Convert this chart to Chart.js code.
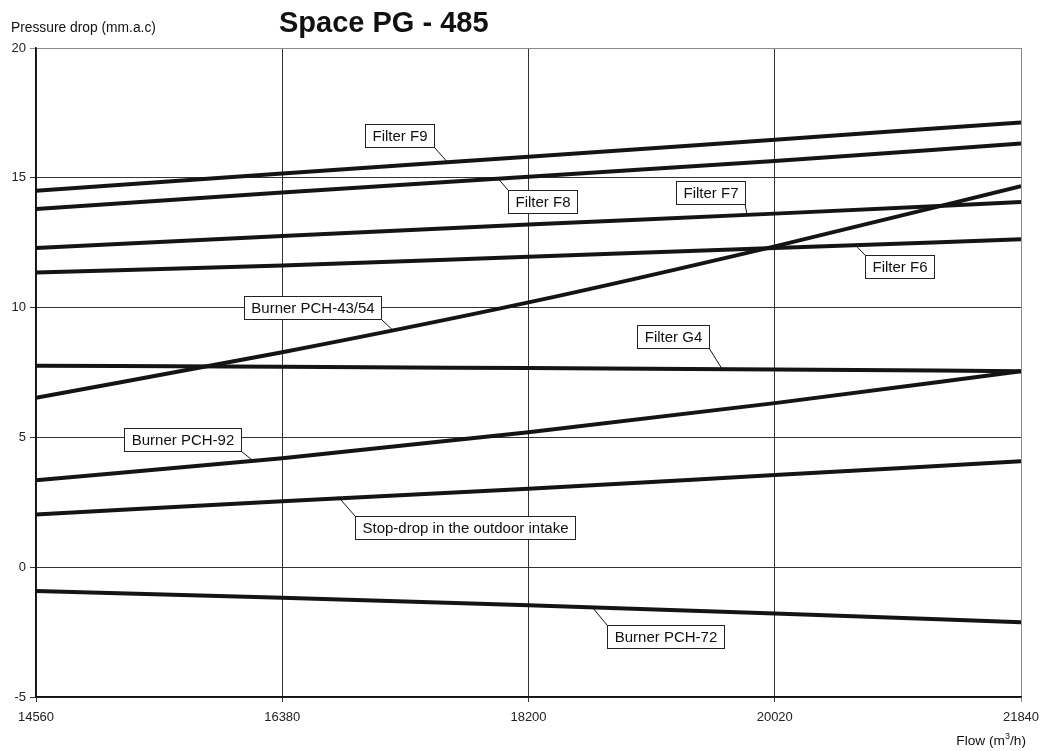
<!DOCTYPE html>
<html>
<head>
<meta charset="utf-8">
<script src="https://cdn.jsdelivr.net/npm/chart.js@4.4.0/dist/chart.umd.min.js"></script>
<style>
html,body{margin:0;padding:0;background:#fff;}
#wrap{width:1043px;height:751px;position:relative;}
</style>
</head>
<body>
<div id="wrap"><canvas id="c" width="1043" height="751"></canvas></div>
<script>
// ---- data ----
const flows = [14560, 16380, 18200, 20020, 21840];
const filterF9 = [14.5, 15.17, 15.81, 16.47, 17.13];
const filterF8 = [13.8, 14.43, 15.04, 15.65, 16.32];
const filterF7 = [12.3, 12.76, 13.2, 13.62, 14.07];
const filterF6 = [11.35, 11.62, 11.96, 12.3, 12.63];
const burner4354 = [6.53, 8.28, 10.2, 12.36, 14.68];
const filterG4 = [7.76, 7.72, 7.67, 7.62, 7.55];
const burner92 = [3.35, 4.2, 5.2, 6.32, 7.55];
const stopDrop = [2.03, 2.54, 3.02, 3.55, 4.08];
const burner72 = [-0.92, -1.18, -1.47, -1.78, -2.12];
const seriesNames = ["Filter F9","Filter F8","Filter F7","Filter F6","Burner PCH-43/54","Filter G4","Burner PCH-92","Stop-drop in the outdoor intake","Burner PCH-72"];
const seriesValues = [filterF9, filterF8, filterF7, filterF6, burner4354, filterG4, burner92, stopDrop, burner72];
const yTicks = [-5, 0, 5, 10, 15, 20];

// label callouts: box centre and leader target, in data units
const callouts = [
  {text:"Filter F9", bx:17250, by:16.63, tx:17598, ty:15.62},
  {text:"Filter F8", bx:18300, by:14.09, tx:17975, ty:14.97},
  {text:"Filter F7", bx:19542, by:14.42, tx:19815, ty:13.57},
  {text:"Filter F6", bx:20942, by:11.59, tx:20613, ty:12.42},
  {text:"Burner PCH-43/54", bx:16607, by:10.0, tx:17199, ty:9.12},
  {text:"Filter G4", bx:19268, by:8.87, tx:19630, ty:7.64},
  {text:"Burner PCH-92", bx:15646, by:4.92, tx:16164, ty:4.1},
  {text:"Stop-drop in the outdoor intake", bx:17734, by:1.53, tx:16792, ty:2.72},
  {text:"Burner PCH-72", bx:19216, by:-2.68, tx:18669, ty:-1.53}
];

const datasets = seriesNames.map((n, i) => ({
  label: n,
  data: flows.map((f, j) => ({x: f, y: seriesValues[i][j]})),
  borderColor: '#141414',
  borderWidth: 4,
  pointRadius: 0,
  fill: false,
  cubicInterpolationMode: 'monotone'
}));

const FONT = '"Liberation Sans", Arial, sans-serif';

const decor = {
  id: 'decor',
  afterDatasetsDraw(chart) {
    const {ctx, scales:{x, y}} = chart;
    ctx.save();
    ctx.font = 'normal 400 15px "Liberation Sans", sans-serif';
    ctx.textBaseline = 'middle';
    ctx.textAlign = 'center';
    callouts.forEach(c => {
      const cx = x.getPixelForValue(c.bx), cy = y.getPixelForValue(c.by);
      const w = Math.round(ctx.measureText(c.text).width + 14), h = 23;
      const l = Math.round(cx - w/2), t = Math.round(cy - h/2);
      const tx = x.getPixelForValue(c.tx), ty = y.getPixelForValue(c.ty);
      const sx = tx < cx ? l : l + w;
      const sy = ty < cy ? t : t + h;
      ctx.strokeStyle = '#111';
      ctx.lineWidth = 1;
      ctx.beginPath();
      ctx.moveTo(sx, sy); ctx.lineTo(tx, ty); ctx.stroke();
      ctx.fillStyle = '#fff';
      ctx.fillRect(l, t, w, h);
      ctx.strokeStyle = '#222';
      ctx.strokeRect(l + 0.5, t + 0.5, w, h);
      ctx.fillStyle = '#111';
      ctx.fillText(c.text, l + w/2 + 0.5, t + h/2 + 1.5);
    });
    ctx.restore();
  },
  afterDraw(chart) {
    const {ctx} = chart;
    ctx.save();
    ctx.fillStyle = '#111';
    ctx.textBaseline = 'alphabetic';
    ctx.textAlign = 'left';
    ctx.font = '13.8px ' + FONT;
    ctx.fillText('Pressure drop (mm.a.c)', 11, 32);
    ctx.font = 'bold 29px ' + FONT;
    ctx.fillText('Space PG - 485', 279, 32);
    ctx.textAlign = 'right';
    const t1 = 'Flow (m', sup = '3', t2 = '/h)';
    ctx.font = '13.7px ' + FONT;
    const w2 = ctx.measureText(t2).width;
    ctx.font = '9px ' + FONT;
    const ws = ctx.measureText(sup).width;
    const right = 1026, base = 745;
    ctx.font = '13.7px ' + FONT;
    ctx.fillText(t2, right, base);
    ctx.font = '9px ' + FONT;
    ctx.fillText(sup, right - w2, base - 6);
    ctx.font = '13.7px ' + FONT;
    ctx.fillText(t1, right - w2 - ws, base);
    ctx.restore();
  }
};

new Chart(document.getElementById('c'), {
  type: 'line',
  data: { datasets },
  options: {
    responsive: false,
    animation: false,
    devicePixelRatio: 1,
    layout: { padding: { top: 48, right: 22, left: 0, bottom: 0 } },
    plugins: { legend: { display: false }, tooltip: { enabled: false }, title: { display: false } },
    scales: {
      x: {
        type: 'linear', min: 14560, max: 21840,
        afterFit: s => { s.height = 54; s.paddingLeft = 0; s.paddingRight = 0; },
        afterBuildTicks: s => { s.ticks = flows.map(v => ({value: v})); },
        ticks: { callback: v => String(v), color: '#222', font: { size: 13, family: FONT }, padding: 8, maxRotation: 0, autoSkip: false },
        grid: { color: c => (c.tick && c.tick.value === 21840) ? '#8a8a8a' : '#333', lineWidth: 1, tickLength: 5, drawTicks: true },
        border: { color: '#111', width: 1.5 }
      },
      y: {
        type: 'linear', min: -5, max: 20,
        afterFit: s => { s.width = 36; s.paddingTop = 0; s.paddingBottom = 0; },
        afterBuildTicks: s => { s.ticks = yTicks.map(v => ({value: v})); },
        ticks: { callback: v => String(v), color: '#222', font: { size: 13, family: FONT }, padding: 4 },
        grid: { color: c => (c.tick && c.tick.value === 20) ? '#8a8a8a' : '#333', lineWidth: 1, tickLength: 6, drawTicks: true },
        border: { color: '#111', width: 1.5 }
      }
    }
  },
  plugins: [decor]
});
</script>
</body>
</html>
